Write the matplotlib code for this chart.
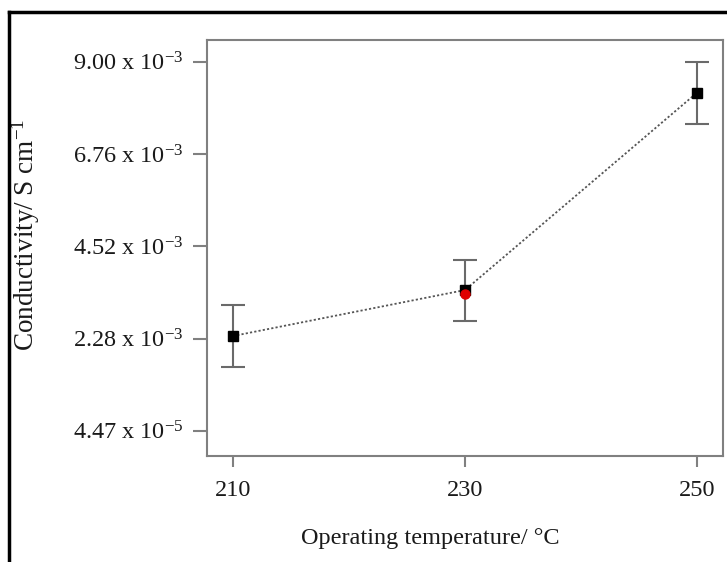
import matplotlib
matplotlib.use("Agg")
import matplotlib.pyplot as plt
from matplotlib.lines import Line2D

temperatures = [210, 230, 250]
conductivity = [2.343e-3, 3.459e-3, 8.248e-3]
errors = [0.76e-3, 0.74e-3, 0.75e-3]
red_temp = [230]
red_value = [3.36e-3]

ytick_values = [4.47e-5, 2.28e-3, 4.52e-3, 6.76e-3, 9.00e-3]
ytick_labels = [r"4.47 x 10$^{\mathrm{-5}}$", r"2.28 x 10$^{\mathrm{-3}}$",
                r"4.52 x 10$^{\mathrm{-3}}$", r"6.76 x 10$^{\mathrm{-3}}$",
                r"9.00 x 10$^{\mathrm{-3}}$"]
xtick_values = [210, 230, 250]
xtick_labels = ["210", "230", "250"]

plt.rcParams['font.family'] = ['Liberation Serif', 'DejaVu Serif']
plt.rcParams['mathtext.fontset'] = 'custom'
plt.rcParams['mathtext.rm'] = 'Liberation Serif'
plt.rcParams['mathtext.it'] = 'Liberation Serif:italic'
plt.rcParams['mathtext.bf'] = 'Liberation Serif:bold'

fig = plt.figure(figsize=(7.27, 5.62), dpi=100)
W, H = 727, 562
left, right, top, bottom = 207, 723, 40, 456
ax = fig.add_axes([left / W, 1 - bottom / H, (right - left) / W, (bottom - top) / H])

spine_col = '#808080'
ax.plot(temperatures, conductivity, linestyle=(0, (1.2, 1.2)), color='#555555',
        linewidth=1.3, zorder=2)
ax.errorbar(temperatures, conductivity, yerr=errors, fmt='none', ecolor='#6a6a6a',
            elinewidth=1.5, capsize=8.5, capthick=1.5, zorder=3)
ax.plot(temperatures, conductivity, linestyle='none', marker='s', markersize=7.5,
        color='black', zorder=4)
ax.plot(red_temp, red_value, linestyle='none', marker='o', markersize=6.5,
        color='#e00000', zorder=5)

ax.set_xlim(207.76, 252.24)
ax.set_ylim(-0.569e-3, 9.527e-3)

ax.set_yticks(ytick_values)
ax.set_yticklabels(ytick_labels)
ax.set_xticks(xtick_values)
ax.set_xticklabels(xtick_labels)

for s in ax.spines.values():
    s.set_color(spine_col)
    s.set_linewidth(1.5)
ax.tick_params(axis='y', length=10, width=1.5, color=spine_col, pad=7,
               labelsize=17.5, labelcolor='#1a1a1a')
ax.tick_params(axis='x', length=8, width=1.5, color=spine_col, pad=9,
               labelsize=17.5, labelcolor='#1a1a1a')

ax.set_ylabel("Conductivity/ S cm$^{\\mathrm{-1}}$", fontsize=19.5, color='#1a1a1a')
ax.set_xlabel("Operating temperature/ °C", fontsize=17.5, color='#1a1a1a')
ax.yaxis.set_label_coords((42 - left) / (right - left), (bottom - 235) / (bottom - top))
ax.xaxis.set_label_coords((430 - left) / (right - left), (bottom - 528) / (bottom - top))

# outer frame (left and top edges)
fig.add_artist(Line2D([9 / W, 9 / W], [0, 1 - 12 / H], transform=fig.transFigure,
                      color='black', linewidth=2.5))
fig.add_artist(Line2D([9 / W, 1], [1 - 12 / H, 1 - 12 / H], transform=fig.transFigure,
                      color='black', linewidth=2.5))

fig.savefig("out.png", dpi=100, facecolor='white')
